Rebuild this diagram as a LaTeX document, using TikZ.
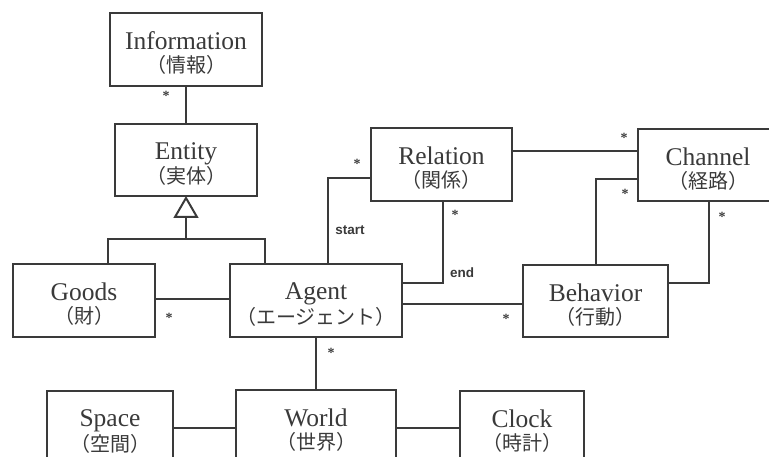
\documentclass[tikz,border=0pt]{standalone}
\usepackage{fontspec}
\setmainfont{Liberation Serif}
\newfontfamily\cjk{Noto Sans CJK JP}
\newfontfamily\lblfont{Liberation Sans}
\definecolor{ink}{HTML}{3A3A3A}
% class box text: English name over the Japanese name (strut keeps every box alike)
\newcommand\umlname[2]{\rule{0pt}{25pt}#1\\[1pt]{\cjk\fontsize{20}{21}\selectfont #2}}
\begin{document}
\begin{tikzpicture}[x=1pt,y=-1pt,
  cls/.style={draw=ink, line width=2pt, fill=white, inner sep=0pt,
    align=center, text=ink, font=\fontsize{25.5}{22}\selectfont},
  link/.style={draw=ink, line width=2pt},
  mult/.style={text=ink, font=\fontsize{14}{14}\selectfont\bfseries, inner sep=0pt},
  role/.style={text=ink, font=\lblfont\bfseries\fontsize{13.5}{13.5}\selectfont, inner sep=0pt}]
\useasboundingbox (0,0) rectangle (769,457);
\clip (0,0) rectangle (769,457);

% classes
\node[cls, minimum width=152pt, minimum height=73pt] (info)     at (186,49.5)  {\umlname{Information}{（情報）}};
\node[cls, minimum width=142pt, minimum height=72pt] (entity)   at (186,160)   {\umlname{Entity}{（実体）}};
\node[cls, minimum width=142pt, minimum height=73pt] (goods)    at (84,300.5)  {\umlname{Goods}{（財）}};
\node[cls, minimum width=172pt, minimum height=73pt] (agent)    at (316,300.5) {\umlname{Agent}{（エージェント）}};
\node[cls, minimum width=141pt, minimum height=73pt] (relation) at (441.5,164.5) {\umlname{Relation}{（関係）}};
\node[cls, minimum width=140pt, minimum height=72pt] (channel)  at (708,165)   {\umlname{Channel}{（経路）}};
\node[cls, minimum width=145pt, minimum height=72pt] (behavior) at (595.5,301)  {\umlname{Behavior}{（行動）}};
\node[cls, minimum width=126pt, minimum height=73pt] (space)    at (110,427.5) {\umlname{Space}{（空間）}};
\node[cls, minimum width=160pt, minimum height=73pt] (world)    at (316,426.5) {\umlname{World}{（世界）}};
\node[cls, minimum width=124pt, minimum height=73pt] (clock)    at (522,427.5) {\umlname{Clock}{（時計）}};

% association Information -- Entity
\draw[link] (info.south) -- (info.south |- entity.north);

% generalization: Goods and Agent are Entities
\coordinate (apex) at ([yshift=-1pt]entity.south);
\coordinate (fork) at (186,239);
\draw[link, line join=miter] (apex) -- ++(-11pt,-19pt) -- ++(22pt,0pt) -- cycle;
\draw[link] ([yshift=-19pt]apex) -- (fork);
\draw[link] (goods.north -| 108,0) |- (fork) -| ([xshift=-51pt]agent.north);

% associations
\draw[link] ([yshift=1.5pt]goods.east) -- ([yshift=1.5pt]goods.east -| agent.west);
\draw[link] ([xshift=12pt]agent.north) |- ([yshift=-13.5pt]relation.west);
\draw[link] ([xshift=1.5pt]relation.south) |- ([yshift=17.5pt]agent.east);
\draw[link] ([yshift=-3.5pt]agent.east) -- ([yshift=-3.5pt]agent.east -| behavior.west);
\draw[link] ([yshift=13.5pt]relation.east) -- ([yshift=13.5pt]relation.east -| channel.west);
\draw[link] ([xshift=0.5pt]behavior.north) |- ([yshift=-14pt]channel.west);
\draw[link] ([xshift=1pt]channel.south) |- ([yshift=18pt]behavior.east);
\draw[link] (agent.south) -- (world.north);
\draw[link] ([yshift=-0.5pt]space.east) -- ([yshift=-0.5pt]space.east -| world.west);
\draw[link] ([yshift=-1.5pt]world.east) -- ([yshift=-1.5pt]world.east -| clock.west);

% multiplicities
\node[mult] (m1) at (166,96)  {*};
\node[mult] (m2) at (169,318) {*};
\node[mult] (m3) at (357,164) {*};
\node[mult] (m4) at (455,215) {*};
\node[mult] (m5) at (624,138) {*};
\node[mult] (m6) at (625,194) {*};
\node[mult] (m7) at (722,217) {*};
\node[mult] (m8) at (506,319) {*};
\node[mult] (m9) at (331,353) {*};

% role names
\node[role] (rstart) at (350,230) {start};
\node[role] (rend)   at (462,273) {end};
\end{tikzpicture}
\end{document}
